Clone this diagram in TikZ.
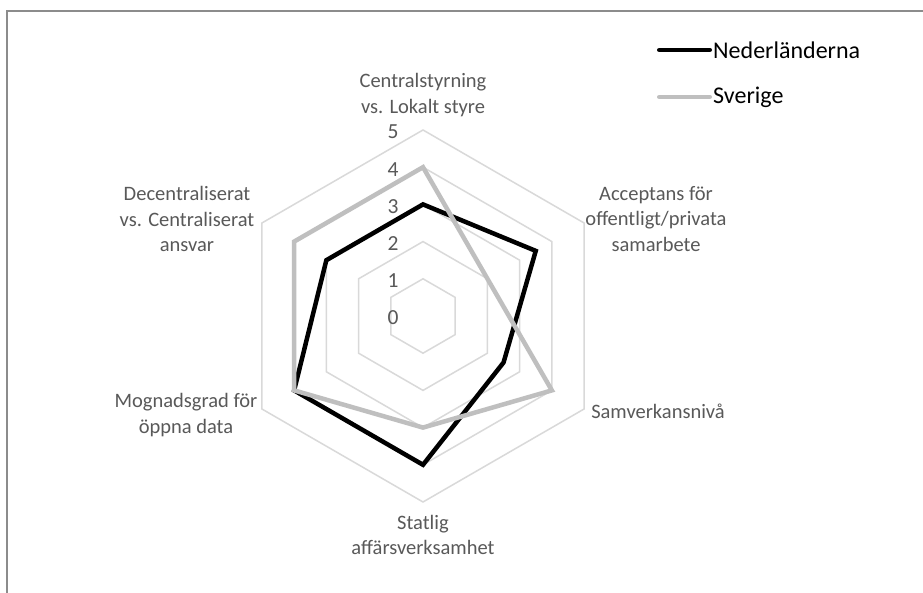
\documentclass[tikz,border=0pt]{standalone}
\usepackage{fontspec}
\setmainfont{Carlito}
\definecolor{labelgray}{HTML}{595959}
\definecolor{gridgray}{HTML}{D9D9D9}
\definecolor{swegray}{HTML}{BFBFBF}
\definecolor{framegray}{HTML}{8C8C8C}
\tikzset{
  frameline/.style={draw=framegray, line width=1.6pt},
  gridline/.style={draw=gridgray, line width=1.5pt},
  nedline/.style={draw=black, line width=4.5pt, line join=miter},
  sweline/.style={draw=swegray, line width=4.5pt, line join=miter},
  legendkey/.style={line cap=round, shorten <=2.25pt, shorten >=2.25pt},
  axislabel/.style={text=labelgray, align=center, inner sep=0pt,
    font=\fontsize{20.5}{25.5}\selectfont},
  ticklabel/.style={text=labelgray, inner sep=0pt,
    font=\fontsize{21.5}{25}\selectfont},
  legendtext/.style={text=black, anchor=west, inner sep=1pt,
    font=\fontsize{24}{28}\selectfont},
}
\begin{document}
\begin{tikzpicture}[x=1pt,y=1pt]
\useasboundingbox (0,0) rectangle (923,593);
\fill[white] (0,0) rectangle (923,593);

% chart frame (top and left edges)
\coordinate (frameBL) at (7,0);
\coordinate (frameTL) at (7,582);
\coordinate (frameTR) at (923,582);
\draw[frameline] (frameBL) -- (frameTL) -- (frameTR);

\begin{scope}[shift={(423,277)}]
  % hexagonal grid, 37.2pt per unit
  \foreach \r in {1,...,5}
    \draw[gridline] (90:\r*37.2) -- (30:\r*37.2) -- (-30:\r*37.2)
      -- (-90:\r*37.2) -- (-150:\r*37.2) -- (150:\r*37.2) -- cycle;

  % scale labels
  \foreach \r in {0,...,5}
    \node[ticklabel] (tick\r) at (-30,\r*37.2-2) {\r};

  % Nederländerna
  \coordinate (n0) at (90:3*37.2);
  \coordinate (n1) at (30:3.5*37.2);
  \coordinate (n2) at (-30:2.5*37.2);
  \coordinate (n3) at (-90:4*37.2);
  \coordinate (n4) at (-150:4*37.2);
  \coordinate (n5) at (150:3*37.2);
  \draw[nedline] (n0) -- (n1) -- (n2) -- (n3) -- (n4) -- (n5) -- cycle;

  % Sverige
  \coordinate (s0) at (90:4*37.2);
  \coordinate (s1) at (30:2*37.2);
  \coordinate (s2) at (-30:4*37.2);
  \coordinate (s3) at (-90:3*37.2);
  \coordinate (s4) at (-150:4*37.2);
  \coordinate (s5) at (150:4*37.2);
  \draw[sweline] (s0) -- (s1) -- (s2) -- (s3) -- (s4) -- (s5) -- cycle;

  % category labels
  \node[axislabel] (cat0) at (0,221) {Centralstyrning\\vs. Lokalt styre};
  \node[axislabel] (cat1) at (233,97) {Acceptans för\\offentligt/privata\\samarbete};
  \node[axislabel] (cat2) at (235,-95) {Samverkansnivå};
  \node[axislabel] (cat3) at (0,-219) {Statlig\\affärsverksamhet};
  \node[axislabel] (cat4) at (-237,-99) {Mognadsgrad för\\öppna data};
  \node[axislabel] (cat5) at (-236,97) {Decentraliserat\\vs. Centraliserat\\ansvar};
\end{scope}

% legend
\coordinate (legA1) at (657,543);
\node[legendtext] (legA) at (712,543) {Nederländerna};
\draw[nedline, legendkey] (legA1) -- (legA.west);
\coordinate (legB1) at (657,496);
\node[legendtext] (legB) at (712,496) {Sverige};
\draw[sweline, legendkey] (legB1) -- (legB.west);
\end{tikzpicture}
\end{document}
